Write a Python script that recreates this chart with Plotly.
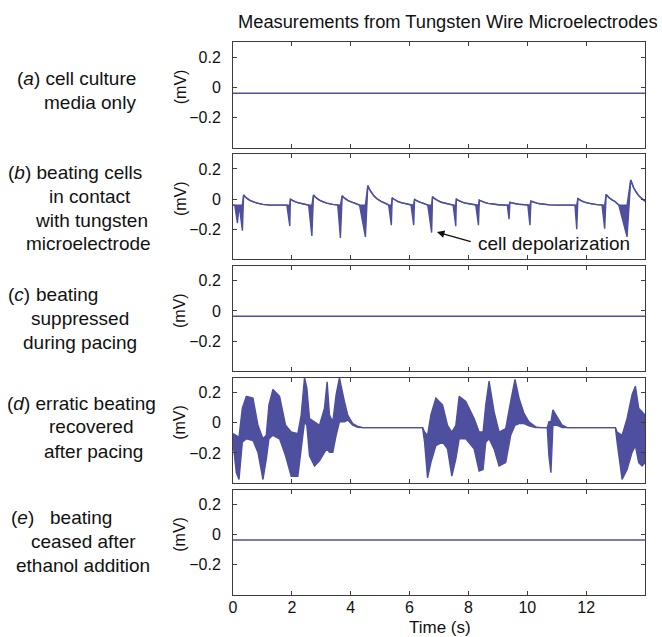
import plotly.graph_objects as go

# ---------------- data ----------------
time_range = [0, 14]
mv_range = [-0.4, 0.3]
x_tick_vals = [0, 2, 4, 6, 8, 10, 12]
x_tick_text = ["0", "2", "4", "6", "8", "10", "12"]
y_tick_vals = [-0.2, 0, 0.2]
y_tick_text = ["\u22120.2", "0", "0.2"]

# flat traces (a), (c), (e)
flat_t = [0, 14]
a_mv = [-0.04, -0.04]
c_mv = [-0.035, -0.035]
e_mv = [-0.035, -0.035]

# (b) beating cells: one row per beat (burst start, time of deepest point, time of overshoot peak)
b_baseline = -0.04
b_start = [0.06, 0.21, 1.83, 2.57, 3.56, 4.30, 5.29, 6.05, 6.62, 7.48, 8.25, 9.32, 10.02, 11.62, 12.54, 13.11]
b_tmin = [0.15, 0.32, 1.93, 2.68, 3.65, 4.50, 5.38, 6.14, 6.75, 7.57, 8.34, 9.38, 10.09, 11.68, 12.63, 13.39]
b_tpeak = [0.20, 0.36, 1.95, 2.735, 3.71, 4.58, 5.41, 6.17, 6.78, 7.59, 8.37, 9.41, 10.125, 11.72, 12.68, 13.515]
b_min = [-0.16, -0.21, -0.178, -0.245, -0.258, -0.251, -0.173, -0.173, -0.222, -0.18, -0.173, -0.133, -0.173, -0.20, -0.196, -0.251]
b_peak = [-0.04, 0.027, 0.0, 0.027, 0.022, 0.089, 0.009, -0.002, 0.016, 0.0, -0.007, -0.022, -0.013, 0.004, 0.031, 0.127]
# shape of the relaxation after each overshoot (time after peak, remaining fraction)
decay_dt = [0.05, 0.1, 0.2, 0.3, 0.45, 0.65, 0.9]
decay_frac = [0.83, 0.69, 0.49, 0.34, 0.19, 0.07, 0.0]

# (d) erratic beating: upper / lower envelope of the dense trace
d_t = [0.0, 0.114, 0.204, 0.317, 0.453, 0.679, 0.848, 1.018, 1.131, 1.221, 1.357, 1.583, 1.786, 1.978,
       2.204, 2.317, 2.430, 2.509, 2.600, 2.769, 2.939, 3.108, 3.199, 3.278, 3.391, 3.504, 3.617, 3.786,
       3.899, 4.069, 4.238, 4.408, 6.442, 6.510, 6.611, 6.724, 6.894, 7.120, 7.289, 7.436, 7.572, 7.685,
       7.911, 8.193, 8.363, 8.498, 8.589, 8.702, 8.871, 9.041, 9.266, 9.436, 9.583, 9.719, 9.888, 10.057,
       10.283, 10.453, 10.679, 10.735, 10.803, 10.871, 11.018, 11.187, 11.357, 12.995, 13.052, 13.221,
       13.391, 13.560, 13.673, 13.786, 13.899, 14.0]
d_hi = [-0.072, -0.083, -0.095, 0.097, 0.176, 0.164, -0.016, -0.106, -0.083, 0.119, 0.221, 0.176, -0.016, -0.061,
        -0.072, 0.052, 0.299, 0.232, 0.029, 0.007, -0.016, 0.097, 0.272, 0.052, 0.007, 0.187, 0.299, 0.142,
        0.052, -0.005, -0.023, -0.032, -0.032, -0.061, -0.083, 0.052, 0.164, 0.119, -0.016, -0.061, -0.016, 0.176,
        0.142, 0.029, -0.061, -0.061, 0.119, 0.277, 0.074, -0.061, -0.038, 0.142, 0.288, 0.164, 0.063, 0.007,
        -0.027, -0.032, -0.032, 0.007, 0.007, 0.086, 0.041, -0.016, -0.032, -0.032, -0.061, -0.083,
        0.029, 0.187, 0.243, 0.097, 0.074, 0.052]
d_lo = [-0.128, -0.331, -0.376, -0.128, -0.106, -0.117, -0.196, -0.376, -0.241, -0.106, -0.083, -0.106, -0.219, -0.354,
        -0.354, -0.151, 0.007, -0.016, -0.219, -0.286, -0.252, -0.196, -0.173, -0.196, -0.196, -0.083, 0.007, 0.007,
        0.018, -0.016, -0.029, -0.032, -0.032, -0.128, -0.365, -0.264, -0.151, -0.128, -0.173, -0.354, -0.241, -0.106,
        -0.106, -0.173, -0.320, -0.309, -0.128, -0.106, -0.173, -0.286, -0.264, -0.083, -0.016, -0.005, -0.005, -0.020,
        -0.032, -0.032, -0.032, -0.219, -0.331, -0.016, -0.016, -0.032, -0.032, -0.032, -0.128, -0.376,
        -0.309, -0.196, -0.151, -0.264, -0.286, -0.264]

panel_labels = [
    # (text, anchor, x_px, y_px)
    ("(<i>a</i>) cell culture", "left", 15, 78),
    ("media only", "center", 90, 102),
    ("(<i>b</i>) beating cells", "left", 6, 172),
    ("in contact", "center", 90, 196),
    ("with tungsten", "center", 91, 220),
    ("microelectrode", "center", 88, 243),
    ("(<i>c</i>)", "left", 6, 294),
    ("beating", "left", 34, 294),
    ("suppressed", "center", 80, 318),
    ("during pacing", "center", 80, 342),
    ("(<i>d</i>) erratic beating", "left", 5, 403),
    ("recovered", "center", 91, 427),
    ("after pacing", "center", 93, 451),
    ("(<i>e</i>)", "left", 9, 517),
    ("beating", "left", 48, 517),
    ("ceased after", "center", 83, 541),
    ("ethanol addition", "center", 83, 565),
]

# ---------------- assemble (b) envelope ----------------
b_t, b_hi, b_lo = [0.0], [b_baseline], [b_baseline]
for i in range(len(b_start)):
    nxt = b_start[i + 1] if i + 1 < len(b_start) else 1e9
    b_t += [b_start[i], b_tmin[i], b_tpeak[i]]
    b_hi += [b_baseline, b_baseline, b_peak[i]]
    b_lo += [b_baseline, b_min[i], b_peak[i]]
    for dt, fr in zip(decay_dt, decay_frac):
        t = b_tpeak[i] + dt
        if t >= nxt:
            break
        v = b_baseline + (b_peak[i] - b_baseline) * fr
        b_t.append(t)
        b_hi.append(v)
        b_lo.append(v)
if b_t[-1] < 14:
    b_t.append(14)
    b_hi.append(b_baseline)
    b_lo.append(b_baseline)

# ---------------- figure ----------------
W, H = 662, 637
ML, MR, MT, MB = 233, 17, 42, 42
PW, PH = W - ML - MR, H - MT - MB

def px_x(px):
    return (px - ML) / PW

def px_y(py):
    return (H - MB - py) / PH

LINE = "#4f4fa0"
AXC = "#3c3c3c"
FONT = "Liberation Sans, Arial, Helvetica, sans-serif"

fig = go.Figure()

def add_line(idx, x, y, fill=None):
    sfx = "" if idx == 1 else str(idx)
    fig.add_trace(go.Scatter(x=x, y=y, mode="lines", xaxis="x" + sfx, yaxis="y" + sfx,
                             line=dict(color=LINE, width=1.4), fill=fill,
                             fillcolor=LINE, showlegend=False, hoverinfo="skip"))

add_line(1, flat_t, a_mv)
add_line(2, b_t, b_lo)
add_line(2, b_t, b_hi, fill="tonexty")
add_line(3, flat_t, c_mv)
add_line(4, d_t, d_lo)
add_line(4, d_t, d_hi, fill="tonexty")
add_line(5, flat_t, e_mv)

panel_h = 105.5
panel_gap = (PH - 5 * panel_h) / 4
layout = dict(width=W, height=H, margin=dict(l=ML, r=MR, t=MT, b=MB),
              paper_bgcolor="white", plot_bgcolor="white",
              font=dict(family=FONT, color="#111", size=16), showlegend=False)
annotations = []
for i in range(5):
    idx = i + 1
    sfx = "" if idx == 1 else str(idx)
    top_px = MT + i * (panel_h + panel_gap)
    dom = [px_y(top_px + panel_h), px_y(top_px)]
    layout["xaxis" + sfx] = dict(domain=[0, 1], range=time_range, anchor="y" + sfx,
                                 tickmode="array", tickvals=x_tick_vals, ticktext=x_tick_text,
                                 ticks="inside", ticklen=4, tickcolor=AXC, tickwidth=1,
                                 showline=True, linecolor=AXC, linewidth=1, mirror="ticks",
                                 showgrid=False, zeroline=False, showticklabels=(idx == 5),
                                 tickfont=dict(size=16), ticklabelstandoff=-2)
    layout["yaxis" + sfx] = dict(domain=dom, range=mv_range, anchor="x" + sfx,
                                 tickmode="array", tickvals=y_tick_vals, ticktext=y_tick_text,
                                 ticks="inside", ticklen=4, tickcolor=AXC, tickwidth=1,
                                 showline=True, linecolor=AXC, linewidth=1, mirror="ticks",
                                 showgrid=False, zeroline=False, tickfont=dict(size=16),
                                 ticklabelstandoff=8)
    zero_px = top_px + panel_h * 0.3 / 0.7
    annotations.append(dict(text="(mV)", xref="paper", yref="paper", x=px_x(180), y=px_y(zero_px),
                            textangle=-90, showarrow=False, font=dict(size=16),
                            xanchor="center", yanchor="middle"))

for text, anchor, xp, yp in panel_labels:
    annotations.append(dict(text=text, xref="paper", yref="paper", x=px_x(xp), y=px_y(yp),
                            xanchor=anchor, yanchor="middle", showarrow=False, font=dict(size=19)))

annotations.append(dict(text="Measurements from Tungsten Wire Microelectrodes", xref="paper", yref="paper",
                        x=px_x(448), y=px_y(21), xanchor="center", yanchor="middle",
                        showarrow=False, font=dict(size=18.3)))
annotations.append(dict(text="Time (s)", xref="paper", yref="paper", x=px_x(440), y=px_y(627),
                        xanchor="center", yanchor="middle", showarrow=False, font=dict(size=17)))
annotations.append(dict(text="", x=6.93, y=-0.219, xref="x2", yref="y2", ax=8.13, ay=-0.285,
                        axref="x2", ayref="y2", showarrow=True, arrowhead=2, arrowsize=1,
                        arrowwidth=1.5, arrowcolor="#111"))
annotations.append(dict(text="cell depolarization", x=8.27, y=-0.296, xref="x2", yref="y2",
                        xanchor="left", yanchor="middle", showarrow=False, font=dict(size=19)))
layout["annotations"] = annotations
fig.update_layout(**layout)
fig.write_html("out.html", config={"displayModeBar": False})

# remove the default page margin so the 662x637 figure fills the window exactly
with open("out.html", encoding="utf-8") as fh:
    html = fh.read()
html = html.replace("<head>", "<head><style>html,body{margin:0;padding:0;overflow:hidden;}</style>", 1)
with open("out.html", "w", encoding="utf-8") as fh:
    fh.write(html)
